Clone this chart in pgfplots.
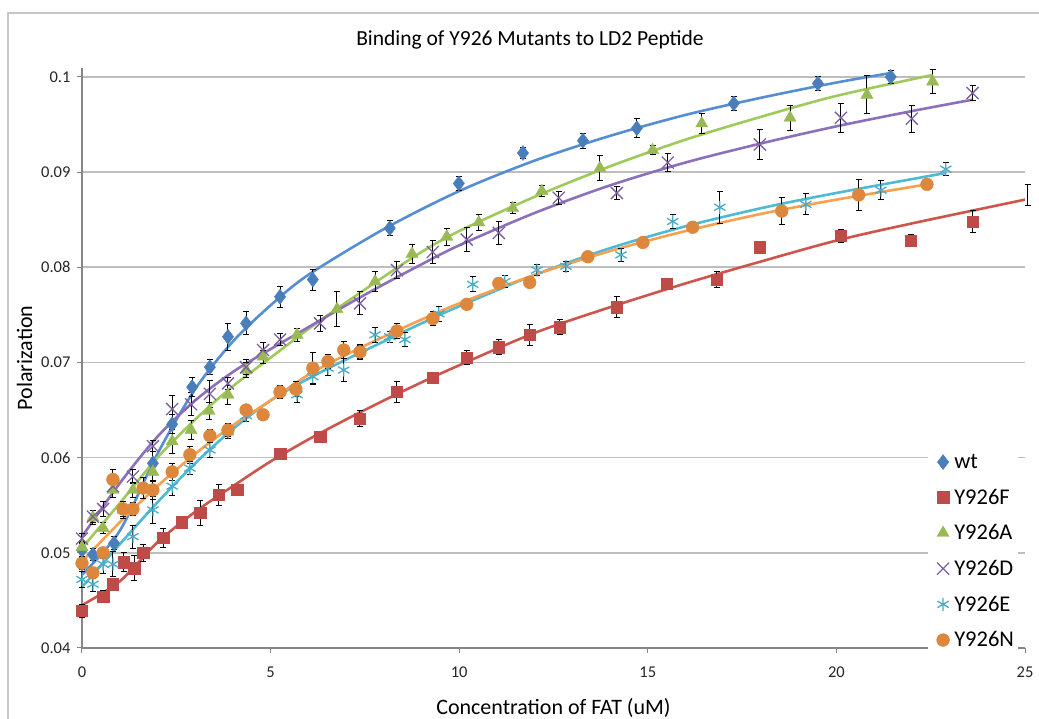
\documentclass[border=0pt]{standalone}
\usepackage{fontspec}
\setmainfont{Carlito}
\usepackage{pgfplots}
\usepackage{pgfplotstable}
\pgfplotsset{compat=1.18}

\definecolor{axgray}{RGB}{134,134,134}
\definecolor{gridgray}{RGB}{190,190,190}
\definecolor{cwt}{RGB}{74,126,187}
\definecolor{cF}{RGB}{190,75,72}
\definecolor{cA}{RGB}{152,185,84}
\definecolor{cD}{RGB}{125,96,160}
\definecolor{cE}{RGB}{75,172,198}
\definecolor{cN}{RGB}{221,135,60}
\definecolor{lwt}{RGB}{85,142,210}
\definecolor{lF}{RGB}{205,85,75}
\definecolor{lA}{RGB}{158,202,92}
\definecolor{lD}{RGB}{140,112,185}
\definecolor{lE}{RGB}{80,185,212}
\definecolor{lN}{RGB}{247,160,80}

% x = concentration (uM), y = polarization, e = error
\pgfplotstableread{
x y e
0 0.0503 0.0008
0.29 0.0498 0.0006
0.85 0.0510 0.0007
1.88 0.0594 0.0012
2.39 0.0635 0.0010
2.92 0.0674 0.0010
3.39 0.0695 0.0008
3.87 0.0727 0.0014
4.35 0.0741 0.0012
5.25 0.0769 0.0011
6.12 0.0787 0.0011
8.16 0.0841 0.0008
9.99 0.0888 0.0007
11.69 0.0920 0.0006
13.28 0.0933 0.0008
14.71 0.0946 0.0010
17.28 0.0972 0.0007
19.51 0.0993 0.0007
21.44 0.1000 0.0007
}\wt
\pgfplotstableread{
x y e
0 0.0439 0.0007
0.56 0.0454 0.0006
0.82 0.0467 0.0006
1.11 0.0490 0.0010
1.38 0.0484 0.0013
1.62 0.0500 0.0009
2.15 0.0516 0.0010
2.65 0.0532 0.0006
3.13 0.0542 0.0013
3.63 0.0561 0.0011
4.11 0.0566 0.0005
5.25 0.0604 0.0006
6.31 0.0622 0.0005
7.37 0.0641 0.0008
8.35 0.0669 0.0011
9.30 0.0684 0.0005
10.20 0.0705 0.0007
11.05 0.0716 0.0008
11.87 0.0729 0.0011
12.67 0.0737 0.0008
14.18 0.0758 0.0011
15.50 0.0783 0.0004
16.83 0.0787 0.0008
17.97 0.0821 0.0006
20.12 0.0833 0.0007
21.97 0.0828 0.0006
23.61 0.0848 0.0012
}\yF
\pgfplotstableread{
x y e
0 0.0506 0.0006
0.29 0.0537 0.0007
0.56 0.0526 0.0006
0.82 0.0566 0.0008
1.09 0.0545 0.0009
1.35 0.0566 0.0008
1.88 0.0585 0.0010
2.39 0.0617 0.0013
2.89 0.0629 0.0010
3.37 0.0649 0.0009
3.87 0.0666 0.0010
4.35 0.0692 0.0008
4.80 0.0706 0.0007
5.70 0.0729 0.0007
6.76 0.0756 0.0018
7.77 0.0785 0.0010
8.75 0.0814 0.0010
9.67 0.0832 0.0009
10.52 0.0847 0.0008
11.42 0.0862 0.0006
12.19 0.0880 0.0006
13.73 0.0904 0.0013
15.13 0.0923 0.0005
16.43 0.0951 0.0010
18.77 0.0957 0.0013
20.81 0.0981 0.0020
22.55 0.0995 0.0013
}\yA
\pgfplotstableread{
x y e
0 0.0515 0.0005
0.29 0.0538 0.0006
0.56 0.0546 0.0008
0.82 0.0570 0.0007
1.35 0.0580 0.0007
1.88 0.0612 0.0006
2.39 0.0651 0.0014
2.89 0.0656 0.0012
3.39 0.0667 0.0014
3.87 0.0678 0.0006
4.35 0.0695 0.0008
4.80 0.0713 0.0008
5.25 0.0724 0.0006
6.31 0.0741 0.0008
7.37 0.0762 0.0012
8.35 0.0797 0.0009
9.30 0.0816 0.0012
10.20 0.0829 0.0013
11.05 0.0836 0.0012
12.64 0.0873 0.0007
14.18 0.0878 0.0007
15.53 0.0910 0.0009
17.97 0.0929 0.0016
20.12 0.0957 0.0015
22.00 0.0956 0.0014
23.61 0.0983 0.0008
}\yD
\pgfplotstableread{
x y e
0 0.0472 0.0008
0.29 0.0467 0.0008
0.56 0.0488 0.0010
0.82 0.0488 0.0013
1.35 0.0517 0.0012
1.88 0.0545 0.0014
2.39 0.0570 0.0010
2.86 0.0589 0.0007
3.39 0.0608 0.0008
3.87 0.0627 0.0007
4.35 0.0644 0.0006
5.70 0.0666 0.0008
6.12 0.0685 0.0008
6.52 0.0694 0.0008
6.94 0.0692 0.0012
7.37 0.0711 0.0008
7.77 0.0729 0.0008
8.16 0.0727 0.0006
8.56 0.0724 0.0007
9.46 0.0751 0.0008
10.36 0.0782 0.0008
11.21 0.0785 0.0006
12.06 0.0797 0.0006
12.83 0.0801 0.0005
14.29 0.0813 0.0007
15.66 0.0848 0.0007
16.91 0.0863 0.0017
19.19 0.0866 0.0011
21.18 0.0881 0.0010
22.90 0.0903 0.0007
}\yE
\pgfplotstableread{
x y e
0 0.0489 0.0007
0.29 0.0479 0.0006
0.56 0.0500 0.0006
0.82 0.0577 0.0010
1.09 0.0546 0.0008
1.35 0.0546 0.0007
1.62 0.0568 0.0011
1.88 0.0566 0.0010
2.39 0.0585 0.0009
2.86 0.0603 0.0009
3.39 0.0623 0.0007
3.87 0.0629 0.0007
4.35 0.0650 0.0005
4.80 0.0645 0.0005
5.25 0.0669 0.0007
5.67 0.0672 0.0008
6.12 0.0694 0.0016
6.52 0.0701 0.0007
6.94 0.0713 0.0009
7.37 0.0711 0.0007
8.35 0.0733 0.0008
9.30 0.0746 0.0007
10.20 0.0761 0.0004
11.05 0.0783 0.0005
11.87 0.0784 0.0005
13.41 0.0811 0.0004
14.87 0.0826 0.0005
16.19 0.0842 0.0005
18.55 0.0859 0.0014
20.59 0.0876 0.0016
22.40 0.0887 0.0004
}\yN

\pgfplotsset{
  pts/.style={only marks,
    error bars/y dir=both, error bars/y explicit,
    error bars/error bar style={black, line width=1pt},
    error bars/error mark options={rotate=90, mark size=3pt, black, line width=1pt}},
  fitline/.style={no marks, smooth, line width=2.6pt, forget plot},
}

\begin{document}
\begin{tikzpicture}
\begin{axis}[
  scale only axis, width=943pt, height=580pt,
  xmin=0, xmax=25, ymin=0.04, ymax=0.10093,
  axis lines=left,
  axis line style={-, draw=axgray, line width=1.2pt},
  xtick={0,5,10,15,20,25},
  ytick={0.04,0.05,0.06,0.07,0.08,0.09,0.1},
  yticklabels={0.04,0.05,0.06,0.07,0.08,0.09,0.1},
  ymajorgrids, grid style={gridgray, line width=1.5pt},
  tick align=outside, major tick length=5pt,
  tick style={axgray, line width=1pt},
  /pgf/number format/assume math mode=true,
  tick label style={font=\fontsize{16.5}{19}\selectfont, text=black!85},
  xticklabel style={yshift=-10pt},
  yticklabel style={xshift=-3pt},
  xlabel={Concentration of FAT (uM)},
  ylabel={Polarization},
  label style={font=\fontsize{22}{25}\selectfont},
  xlabel style={yshift=-14pt},
  ylabel style={yshift=2pt},
  clip=false,
  legend style={at={(axis cs:22.42,0.0608)}, anchor=north west, draw=none,
    fill=white, font=\fontsize{22.5}{25}\selectfont, row sep=15pt,
    inner sep=2pt, cells={anchor=west}},
  legend image code/.code={\path (0pt,0pt) (22pt,0pt); \draw[#1] plot coordinates {(13pt,0pt)};},
]
% fitted curves
\addplot[fitline, lwt] coordinates {(0,0.0477)(1,0.0523)(2,0.0604)(3,0.0672)(4,0.0722)(5,0.0760)(6,0.0792)(8,0.0840)(10,0.0880)(12,0.0912)(14,0.0938)(16,0.0960)(18,0.0978)(20,0.0994)(21.44,0.1004)};
\addplot[fitline, lF] coordinates {(0,0.0445)(1,0.0470)(2,0.0511)(3,0.0543)(4,0.0570)(5,0.0596)(6,0.0619)(7,0.0640)(8,0.0660)(9,0.0679)(10,0.0697)(12,0.0731)(14,0.0758)(16,0.0783)(18,0.0806)(20,0.0828)(22,0.0846)(25,0.0871)};
\addplot[fitline, lA] coordinates {(0,0.0505)(1,0.0552)(2,0.0600)(3,0.0640)(4,0.0675)(5,0.0705)(6,0.0735)(7,0.0763)(8,0.0790)(9,0.0816)(10,0.0838)(12,0.0874)(14,0.0906)(16,0.0934)(18,0.0958)(20,0.0980)(22.55,0.1002)};
\addplot[fitline, lD] coordinates {(0,0.0517)(1,0.0573)(2,0.0622)(3,0.0660)(4,0.0690)(5,0.0714)(6,0.0737)(7,0.0760)(8,0.0782)(9,0.0803)(10,0.0823)(12,0.0857)(14,0.0886)(16,0.0910)(18,0.0930)(20,0.0948)(22,0.0964)(23.61,0.0976)};
\addplot[fitline, lE] coordinates {(0,0.0464)(1,0.0509)(2,0.0553)(3,0.0594)(4,0.0630)(5,0.0660)(6,0.0683)(7,0.0703)(8,0.0722)(9,0.0741)(10,0.0759)(12,0.0792)(14,0.0820)(16,0.0843)(18,0.0862)(20,0.0878)(22.9,0.0899)};
\addplot[fitline, lN] coordinates {(0,0.0491)(1,0.0532)(2,0.0570)(3,0.0604)(4,0.0634)(5,0.0660)(6,0.0687)(7,0.0708)(8,0.0727)(9,0.0745)(10,0.0762)(12,0.0792)(14,0.0817)(16,0.0838)(18,0.0856)(20,0.0871)(22.4,0.0887)};
% data with error bars
\addplot[pts, mark=diamond*, mark size=7.5pt, mark options={fill=cwt, draw=cwt}] table[x=x, y=y, y error=e] {\wt};
\addlegendentry{wt}
\addplot[pts, mark=square*, mark size=5.7pt, mark options={fill=cF, draw=cF}] table[x=x, y=y, y error=e] {\yF};
\addlegendentry{Y926F}
\addplot[pts, mark=triangle*, mark size=7pt, mark options={fill=cA, draw=cA}] table[x=x, y=y, y error=e] {\yA};
\addlegendentry{Y926A}
\addplot[pts, mark=x, mark size=8.5pt, mark options={draw=cD, line width=1.3pt}] table[x=x, y=y, y error=e] {\yD};
\addlegendentry{Y926D}
\addplot[pts, mark=asterisk, mark size=6.5pt, mark options={draw=cE, line width=1.3pt}] table[x=x, y=y, y error=e] {\yE};
\addlegendentry{Y926E}
\addplot[pts, mark=*, mark size=6.4pt, mark options={fill=cN, draw=cN}] table[x=x, y=y, y error=e] {\yN};
\addlegendentry{Y926N}
% error bar whose marker lies just past the x range
\addplot[pts, mark=none, mark size=0pt, forget plot] coordinates {(25.07,0.0876) +- (0,0.0011)};
\end{axis}
\node[font=\fontsize{21.5}{24}\selectfont] at (448pt,608pt) {Binding of Y926 Mutants to LD2 Peptide};
\draw[gray!45, line width=1.2pt] (-74pt,-80pt) -- (-74pt,635pt) -- (1000pt,635pt);
\pgfresetboundingbox
\useasboundingbox (-82pt,-71pt) rectangle (957pt,648pt);
\end{tikzpicture}
\end{document}
